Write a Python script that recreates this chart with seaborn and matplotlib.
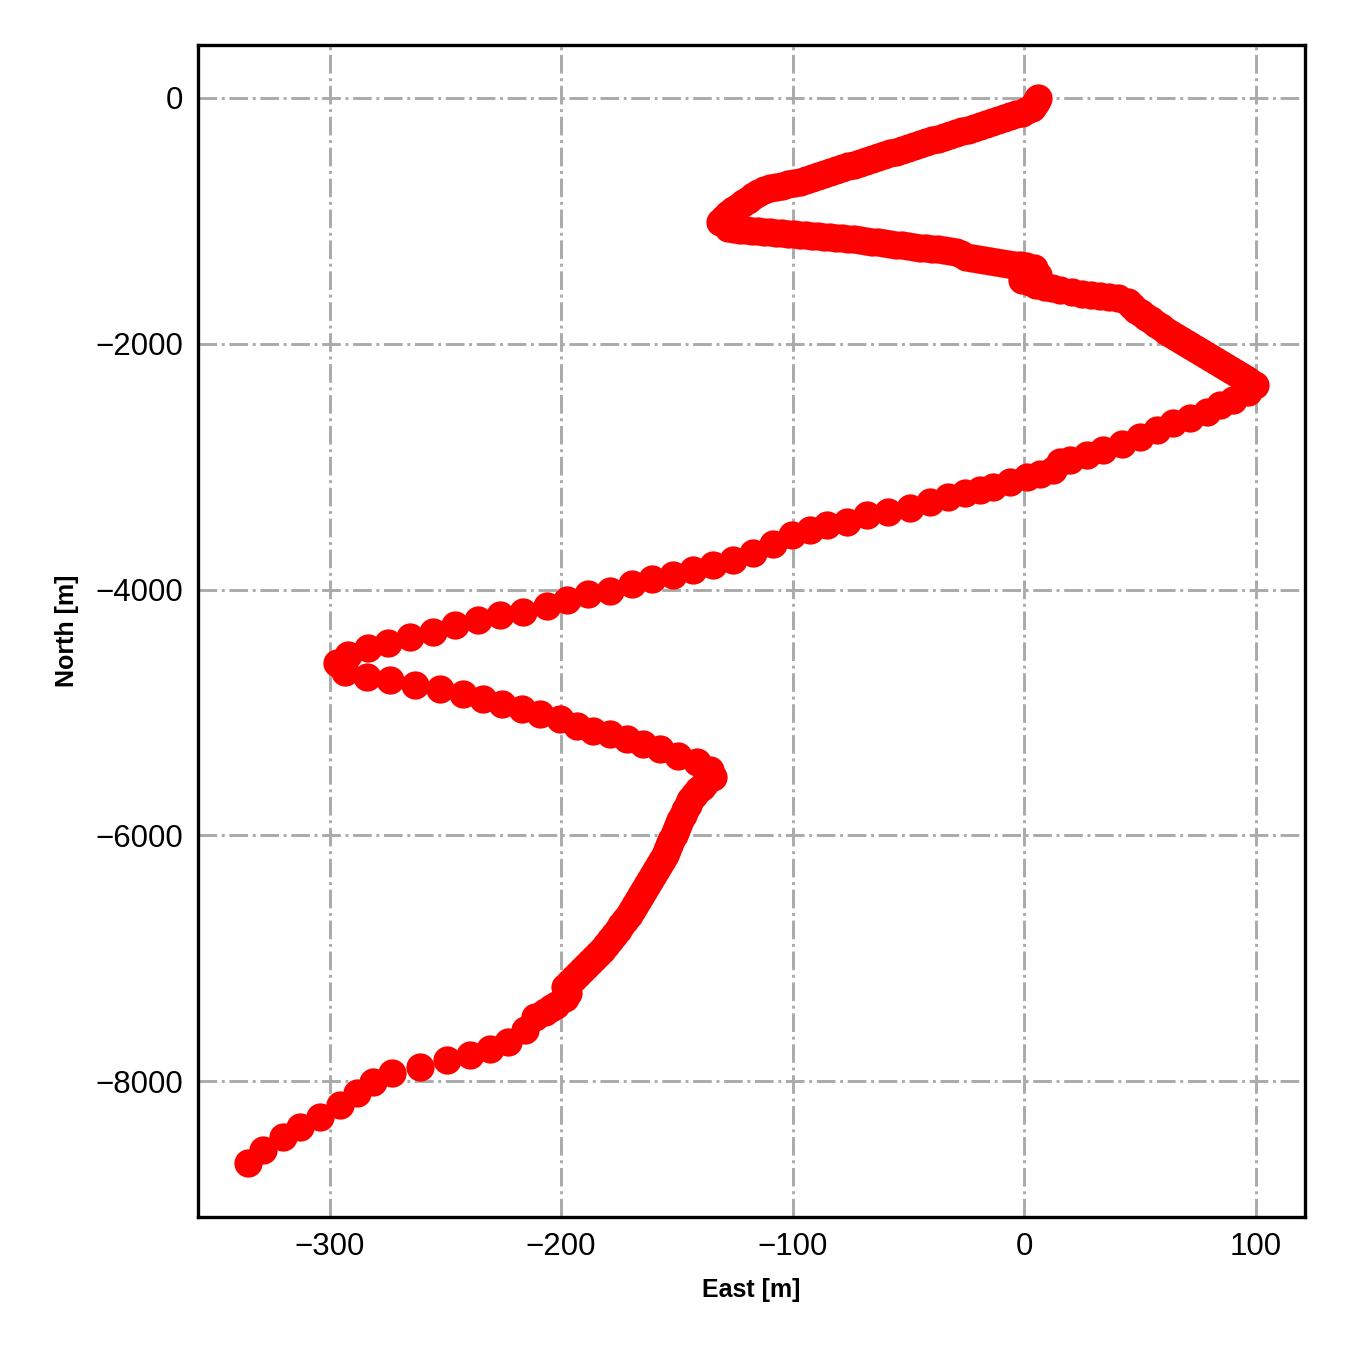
import numpy as np
import pandas as pd
import seaborn as sns
import matplotlib.pyplot as plt

# track positions (east / north in metres)
east_a = [6.0, 5.6, 5.2, 4.4, 3.5, 1.3, -0.9, -3.5, -6.0, -8.6, -11.2, -13.8, -16.4, -19.0,
          -21.6, -24.2, -26.8, -29.4, -32.0, -34.6, -37.1, -39.7, -42.3, -44.9, -47.5,
          -50.1, -52.7, -55.3, -57.9, -60.5, -63.1, -65.7, -68.3, -70.9, -73.4, -76.0,
          -78.6, -81.2, -83.8, -86.4, -89.0, -91.6, -94.2, -96.8, -99.4, -102.0, -104.5,
          -107.1, -109.7, -112.3, -114.9, -117.0, -119.2, -121.3, -123.5, -125.7, -127.9,
          -129.6, -131.3]
north_a = [0, -16, -33, -57, -81, -101, -122, -134, -146, -163, -179, -196, -212, -228,
           -244, -257, -269, -285, -301, -318, -334, -346, -358, -375, -391,
           -407, -423, -436, -448, -464, -480, -497, -513, -529, -545, -557,
           -570, -586, -602, -619, -635, -651, -667, -680, -692, -704, -716,
           -724, -732, -753, -773, -801, -830, -858, -887, -915, -944,
           -976, -1009]

east_b = [-127.9, -125.3, -122.7, -120.1, -117.5, -114.9, -112.3, -109.7, -107.1, -104.5,
          -101.9, -99.4, -96.8, -94.2, -91.6, -89.0, -86.4, -83.8, -81.2, -78.6,
          -76.0, -73.4, -70.8, -68.3, -65.7, -63.1, -60.5, -57.9, -55.3, -52.7,
          -50.1, -47.5, -44.9, -42.3, -39.7, -37.1, -34.6, -32.0, -29.4, -27.2,
          -25.1, -22.5, -19.9, -17.3, -14.7, -12.1, -9.5, -6.9, -4.3, -1.7,
          0.9, 4.3, 6.0, 2.6, -0.9, 5.0, 9.1, 12.3, 15.6, 20.7,
          25.1, 29.0, 32.8, 36.7, 40.6, 44.9, 46.6, 48.4, 50.5, 52.7,
          54.8, 57.0, 59.2, 61.3, 63.5, 65.7, 67.8, 70.0, 72.1, 74.3,
          76.5, 78.6, 80.8, 82.9, 85.1, 87.3, 89.4, 91.6, 93.7, 95.9,
          97.8, 99.8]
north_b = [-1058, -1066, -1074, -1078, -1082, -1086, -1090, -1094, -1098, -1102,
           -1107, -1111, -1115, -1119, -1123, -1127, -1131, -1135, -1139, -1143,
           -1147, -1151, -1155, -1163, -1172, -1176, -1180, -1188, -1196, -1200,
           -1204, -1212, -1221, -1225, -1229, -1233, -1237, -1245, -1253, -1273,
           -1294, -1302, -1310, -1318, -1326, -1334, -1343, -1351, -1359, -1363,
           -1367, -1383, -1440, -1497, -1481, -1520, -1538, -1550, -1562, -1579,
           -1595, -1603, -1611, -1619, -1627, -1660, -1692, -1725, -1753, -1782,
           -1810, -1839, -1867, -1896, -1920, -1945, -1969, -1994, -2018, -2042,
           -2067, -2091, -2116, -2140, -2164, -2189, -2213, -2238, -2262, -2287,
           -2311, -2335]

east_c = [96.8, 90.3, 84.7, 79.1, 71.7, 64.4, 57.5, 50.1, 42.3, 34.1, 27.2, 19.9, 15.6,
          12.5, 6.9, 1.3, -6.0, -13.4, -19.0, -25.5, -32.8, -40.6, -49.2, -58.7, -67.8,
          -76.5, -85.1, -92.4, -100.2, -108.4, -117.1, -125.7, -134.3, -143.0, -151.6,
          -160.7, -169.3, -178.8, -188.3, -197.4, -206.1, -216.4, -226.4, -235.9,
          -245.8, -255.3, -265.2, -274.7, -283.4, -292.0, -296.8]
north_c = [-2392, -2457, -2498, -2555, -2604, -2645, -2701, -2758, -2815, -2864, -2905,
           -2946, -2962, -3027, -3060, -3084, -3125, -3165, -3190, -3214, -3247, -3287,
           -3336, -3369, -3393, -3450, -3474, -3515, -3556, -3629, -3702, -3759, -3800,
           -3841, -3881, -3914, -3955, -4012, -4036, -4085, -4134, -4182, -4207, -4248,
           -4288, -4345, -4386, -4435, -4475, -4532, -4597]

east_d = [-293.3, -283.8, -273.9, -263.1, -252.3, -242.3, -233.7, -225.5, -216.9,
          -209.1, -200.4, -193.1, -186.2, -178.8, -171.5, -164.6, -157.2, -149.5,
          -141.3, -135.6, -134.3]
north_d = [-4671, -4711, -4736, -4776, -4809, -4850, -4890, -4931, -4972, -5012,
           -5053, -5110, -5151, -5175, -5216, -5257, -5297, -5354, -5403, -5468, -5525]

east_e = [-137.8, -139.3, -140.8, -142.5, -144.3, -145.3, -146.4, -147.5, -148.6, -149.4,
          -150.3, -151.4, -152.5, -153.3, -154.2, -155.3, -156.4, -157.7, -159.0, -160.3,
          -161.6, -162.8, -164.1, -165.4, -166.7, -168.0, -169.3, -170.8, -172.4, -173.9,
          -175.4, -177.1, -178.8, -180.5, -182.3, -184.0, -185.7, -187.4, -189.2, -190.9,
          -192.7, -194.4, -196.1, -198.3, -197.0, -198.3, -202.2, -204.5, -206.9, -211.2]
north_e = [-5574, -5603, -5631, -5672, -5712, -5753, -5794, -5835, -5875, -5916,
           -5956, -5997, -6038, -6078, -6119, -6160, -6200, -6241, -6282, -6322,
           -6363, -6404, -6445, -6485, -6526, -6566, -6607, -6648, -6689, -6729,
           -6770, -6811, -6851, -6892, -6933, -6965, -6998, -7030, -7063, -7095,
           -7128, -7160, -7193, -7234, -7283, -7326, -7380, -7408, -7437, -7478]

east_f = [-215.6, -222.9, -230.7, -239.3, -249.2, -260.9, -273.0, -281.2, -288.1,
          -295.5, -304.1, -312.7, -320.1, -328.7, -335.2]
north_f = [-7584, -7681, -7738, -7787, -7828, -7885, -7934, -8007, -8096, -8194,
           -8292, -8373, -8454, -8560, -8666]

df = pd.DataFrame({
    'East': east_a + east_b + east_c + east_d + east_e + east_f,
    'North': north_a + north_b + north_c + north_d + north_e + north_f,
})

sns.set_style('white')
plt.rcParams['font.family'] = ['Liberation Sans', 'DejaVu Sans']

fig = plt.figure(figsize=(4.5, 4.5), dpi=300)
ax = fig.add_axes([0.1467, 0.0985, 0.82, 0.8682])

sns.scatterplot(data=df, x='East', y='North', color='red', s=46, linewidth=0, ax=ax)

ax.set_axisbelow(True)
ax.grid(True, linestyle='-.', color='#aaaaaa', linewidth=0.7)
ax.set_xticks([-300, -200, -100, 0, 100])
ax.set_yticks([0, -2000, -4000, -6000, -8000])
ax.set_xlim(-356.8, 121.4)
ax.set_ylim(-9105, 431)
ax.tick_params(direction='in', length=3.5, width=0.8, labelsize=7.5, colors='black')
for s in ax.spines.values():
    s.set_color('black')
    s.set_linewidth(0.8)

ax.set_xlabel('East [m]', fontsize=6, fontweight='bold', color='black', labelpad=4)
ax.set_ylabel('North [m]', fontsize=6, fontweight='bold', color='black', labelpad=4)

fig.savefig('out.png', dpi=300)
